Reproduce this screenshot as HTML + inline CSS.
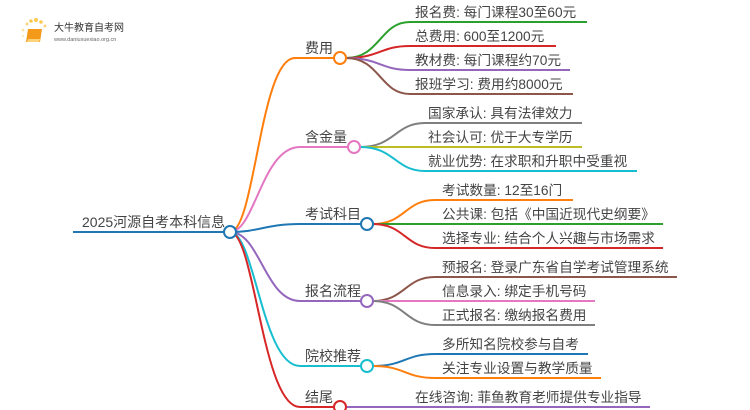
<!DOCTYPE html>
<html><head><meta charset="utf-8"><style>
html,body{margin:0;padding:0;background:#fff;}
svg{display:block;}
text{font-family:"Liberation Sans","Noto Sans CJK SC",sans-serif;fill:#444;}
</style></head><body>
<svg width="750" height="410" viewBox="0 0 750 410" xmlns="http://www.w3.org/2000/svg">
<g>
<circle cx="27" cy="24" r="1.5" fill="#fcd37a"/><circle cx="31" cy="21" r="1.8" fill="#fcc94f"/><circle cx="36" cy="20" r="2" fill="#fcc94f"/><circle cx="41" cy="22" r="1.8" fill="#fcc94f"/><circle cx="45" cy="26" r="1.5" fill="#fcd37a"/><circle cx="23" cy="30" r="1.3" fill="#fde0a0"/><circle cx="23" cy="36" r="1.1" fill="#fde9c0"/>
<path d="M28 29 L42 29 L40 42 L26 42 Z" fill="#f39a1b"/><path d="M28 39 L40 39 L39 42 L27 42 Z" fill="#fcd37a"/>
<text x="54" y="31" font-size="10" style="fill:#333">大牛教育自考网</text>
<text x="54" y="41" font-size="5.5" style="fill:#666">www.daniuxuexiao.org.cn</text>
</g>
<g fill="none" stroke-width="2">
<path d="M73 232 L224 232" stroke="#1f77b4"/>
<path d="M230 232 C255 232 260 58 295 58 L334 58" stroke="#ff7f0e"/>
<path d="M230 232 C255 232 262 147 300 147 L348 147" stroke="#e377c2"/>
<path d="M230 232 C260 232 265 224 300 224 L361 224" stroke="#1f77b4"/>
<path d="M230 232 C260 232 265 301 300 301 L361 301" stroke="#9467bd"/>
<path d="M230 232 C255 232 262 366 300 366 L361 366" stroke="#17becf"/>
<path d="M230 232 C255 232 262 407 300 407 L334 407" stroke="#d62728"/>
<path d="M346 58 C380 58 380 22 410 22 L587 22" stroke="#2ca02c"/>
<path d="M346 58 C380 58 380 46 410 46 L556 46" stroke="#d62728"/>
<path d="M346 58 C380 58 380 70 410 70 L570 70" stroke="#9467bd"/>
<path d="M346 58 C380 58 380 94 410 94 L573 94" stroke="#8c564b"/>
<path d="M360 147 C395 147 395 123 425 123 L582 123" stroke="#7f7f7f"/>
<path d="M360 147 L582 147" stroke="#bcbd22"/>
<path d="M360 147 C395 147 395 171 425 171 L637 171" stroke="#17becf"/>
<path d="M373 224 C405 224 405 200 435 200 L573 200" stroke="#ff7f0e"/>
<path d="M373 224 L663 224" stroke="#2ca02c"/>
<path d="M373 224 C405 224 405 248 435 248 L663 248" stroke="#d62728"/>
<path d="M373 301 C405 301 405 277 435 277 L677 277" stroke="#8c564b"/>
<path d="M373 301 L595 301" stroke="#e377c2"/>
<path d="M373 301 C405 301 405 325 435 325 L595 325" stroke="#7f7f7f"/>
<path d="M373 366 C405 366 405 354 435 354 L588 354" stroke="#1f77b4"/>
<path d="M373 366 C405 366 405 378 435 378 L601 378" stroke="#ff7f0e"/>
<path d="M346 407 L650 407" stroke="#9467bd"/>
</g>
<g fill="#fff" stroke-width="2">
<circle cx="230" cy="232" r="6" stroke="#1f77b4"/>
<circle cx="340" cy="58" r="6" stroke="#ff7f0e"/>
<circle cx="354" cy="147" r="6" stroke="#e377c2"/>
<circle cx="367" cy="224" r="6" stroke="#1f77b4"/>
<circle cx="367" cy="301" r="6" stroke="#9467bd"/>
<circle cx="367" cy="366" r="6" stroke="#17becf"/>
<circle cx="340" cy="407" r="6" stroke="#d62728"/>
</g>
<g font-size="14">
<text x="82" y="227">2025河源自考本科信息</text>
<text x="305" y="53">费用</text>
<text x="305" y="142">含金量</text>
<text x="305" y="219">考试科目</text>
<text x="305" y="296">报名流程</text>
<text x="305" y="361">院校推荐</text>
<text x="305" y="402">结尾</text>
</g>
<g font-size="13.7">
<text x="415" y="17">报名费: 每门课程30至60元</text>
<text x="415" y="41">总费用: 600至1200元</text>
<text x="415" y="65">教材费: 每门课程约70元</text>
<text x="415" y="89">报班学习: 费用约8000元</text>
<text x="428" y="118">国家承认: 具有法律效力</text>
<text x="428" y="142">社会认可: 优于大专学历</text>
<text x="428" y="166">就业优势: 在求职和升职中受重视</text>
<text x="442" y="195">考试数量: 12至16门</text>
<text x="442" y="219">公共课: 包括《中国近现代史纲要》</text>
<text x="442" y="243">选择专业: 结合个人兴趣与市场需求</text>
<text x="442" y="272">预报名: 登录广东省自学考试管理系统</text>
<text x="442" y="296">信息录入: 绑定手机号码</text>
<text x="442" y="320">正式报名: 缴纳报名费用</text>
<text x="442" y="349">多所知名院校参与自考</text>
<text x="442" y="373">关注专业设置与教学质量</text>
<text x="415" y="402">在线咨询: 菲鱼教育老师提供专业指导</text>
</g>
</svg>
</body></html>
